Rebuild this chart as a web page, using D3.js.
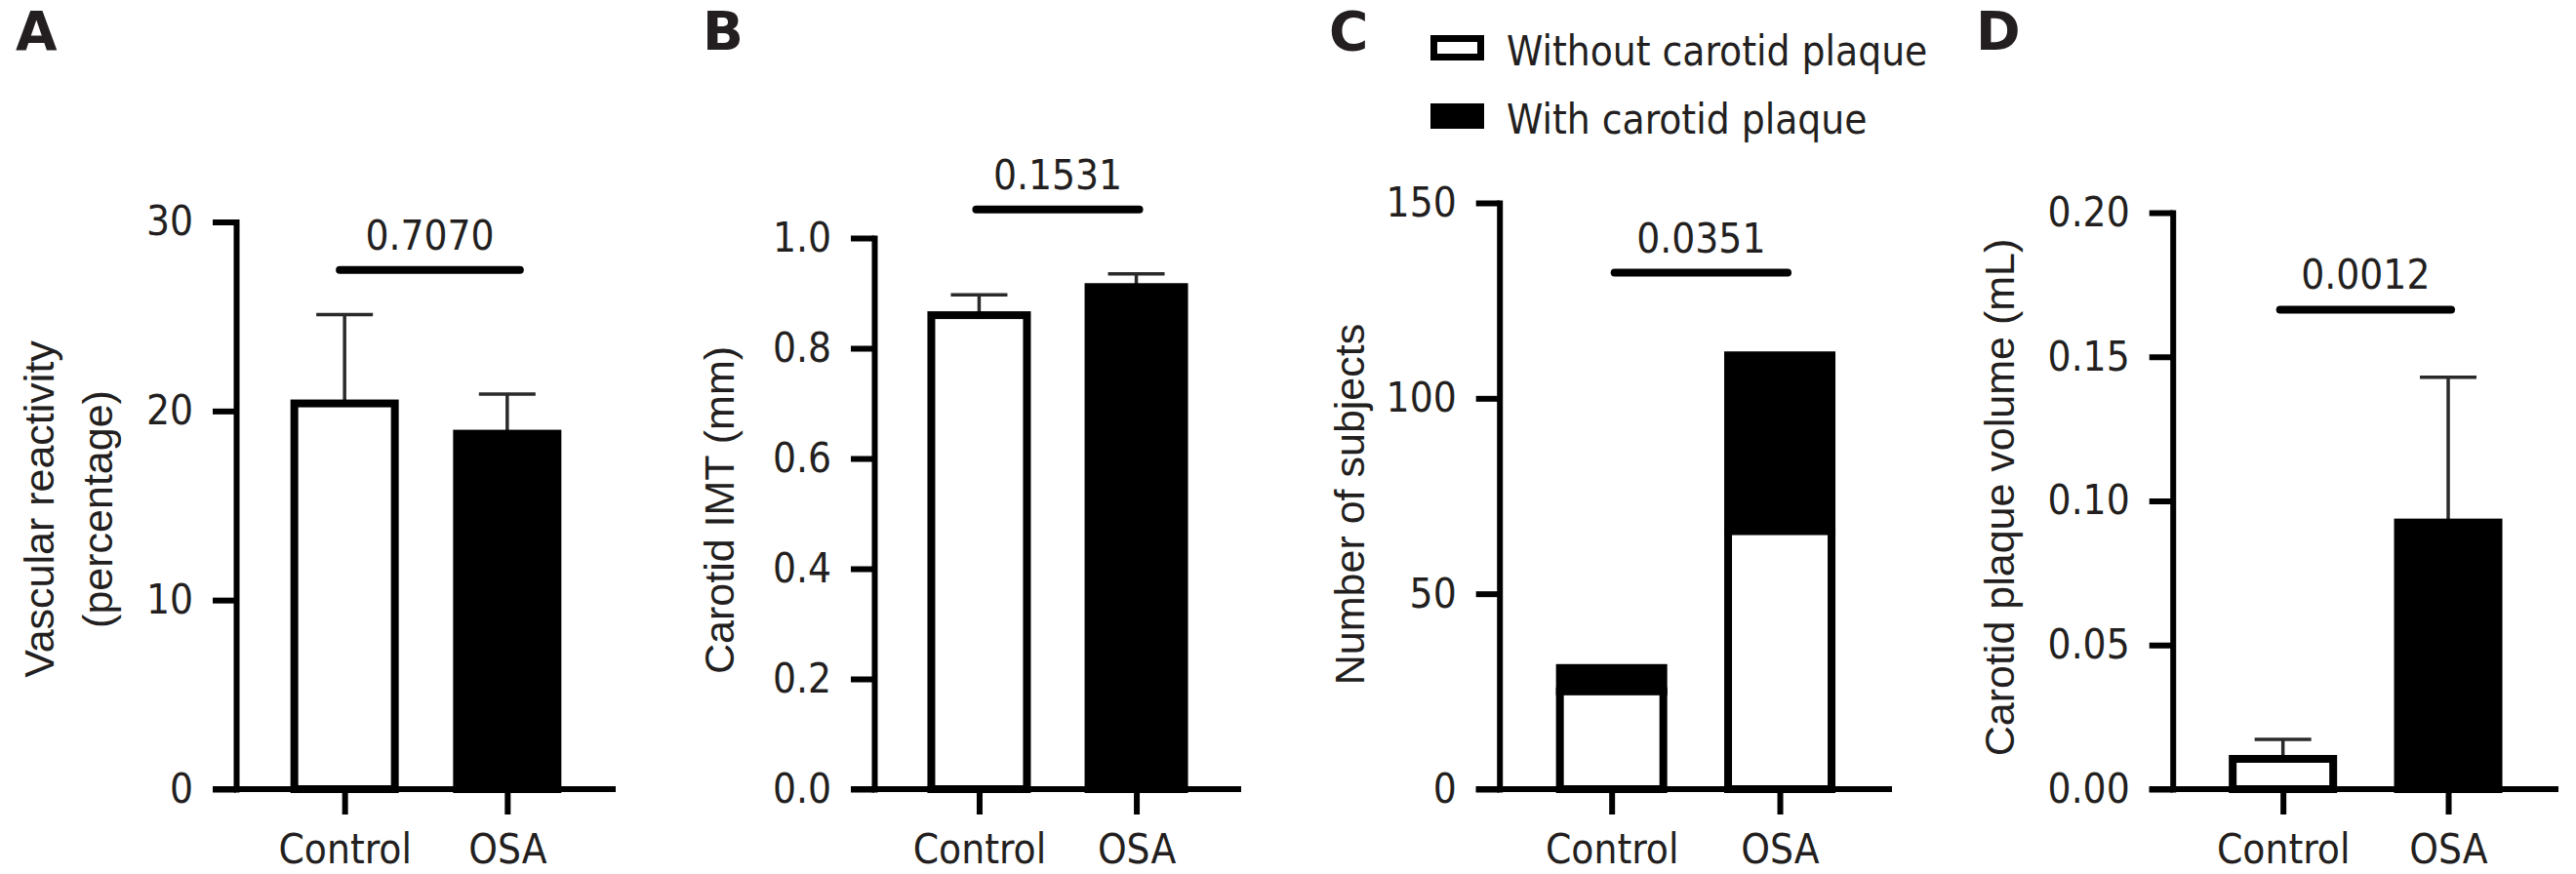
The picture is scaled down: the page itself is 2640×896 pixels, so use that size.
<!DOCTYPE html>
<html>
<head>
<meta charset="utf-8">
<script src="https://cdn.jsdelivr.net/npm/d3@7"></script>
<style>
  html, body { margin: 0; padding: 0; background: #fff; }
  svg { display: block; }
  .num { font-family: "DejaVu Sans Condensed", "DejaVu Sans", sans-serif; font-stretch: condensed; font-size: 42px; fill: #231f20; }
  .ttl { font-family: "Liberation Sans", Arial, sans-serif; font-size: 43px; fill: #231f20; }
  .letter { font-family: "DejaVu Sans", sans-serif; font-weight: bold; font-size: 55px; fill: #231f20; }
</style>
</head>
<body>
<script>
// ---------------- data ----------------
const categories = ["Control", "OSA"];

// Panel A: vascular reactivity (%), mean and upper SD
const vascularMean = [20.4, 18.8];
const vascularErr  = [4.7, 2.1];

// Panel B: carotid IMT (mm)
const imtMean = [0.860, 0.911];
const imtErr  = [0.037, 0.024];

// Panel C: number of subjects (stacked)
const withoutPlaque = [25, 66];
const withPlaque    = [6, 45];

// Panel D: carotid plaque volume (mL)
const plaqueVolMean = [0.0105, 0.0925];
const plaqueVolErr  = [0.0068, 0.0504];

const pValues = ["0.7070", "0.1531", "0.0351", "0.0012"];
const panelLetters = ["A", "B", "C", "D"];

const yTicksA = [0, 10, 20, 30];
const yTicksB = [0.0, 0.2, 0.4, 0.6, 0.8, 1.0];
const yTicksC = [0, 50, 100, 150];
const yTicksD = [0.00, 0.05, 0.10, 0.15, 0.20];

const yTitleA = ["Vascular reactivity", "(percentage)"];
const yTitleB = ["Carotid IMT (mm)"];
const yTitleC = ["Number of subjects"];
const yTitleD = ["Carotid plaque volume (mL)"];

const legendLabels = ["Without carotid plaque", "With carotid plaque"];

// ---------------- layout ----------------
const W = 2640, H = 896;
const Y0 = 809;
const STROKE = 8;

const svg = d3.select("body").append("svg")
  .attr("width", W).attr("height", H)
  .attr("viewBox", `0 0 ${W} ${H}`);

const panels = [
  { letter: panelLetters[0], letterX: 16, axisX: 242, xEnd: 631, yTop: 227.5,
    domain: [0, 30], ticks: yTicksA, fmt: d3.format("d"),
    type: "bar", mean: vascularMean, err: vascularErr, barW: 111,
    sigY: 276.7, sigL: -5, sigR: 13, p: pValues[0],
    title: yTitleA, titleX: [55, 115], titleY: 522 },
  { letter: panelLetters[1], letterX: 720, axisX: 896, xEnd: 1272, yTop: 244,
    domain: [0, 1], ticks: yTicksB, fmt: d3.format(".1f"),
    type: "bar", mean: imtMean, err: imtErr, barW: 106,
    sigY: 214.7, sigL: -3, sigR: 3, p: pValues[1],
    title: yTitleB, titleX: [752], titleY: 523 },
  { letter: panelLetters[2], letterX: 1362, axisX: 1536.7, xEnd: 1939, yTop: 208,
    domain: [0, 150], ticks: yTicksC, fmt: d3.format("d"),
    type: "stack", low: withoutPlaque, high: withPlaque, barW: 114,
    sigY: 279.5, sigL: 3, sigR: 8, p: pValues[2],
    title: yTitleC, titleX: [1398], titleY: 517 },
  { letter: panelLetters[3], letterX: 2025, axisX: 2226.7, xEnd: 2622, yTop: 218,
    domain: [0, 0.2], ticks: yTicksD, fmt: d3.format(".2f"),
    type: "bar", mean: plaqueVolMean, err: plaqueVolErr, barW: 111,
    sigY: 317.4, sigL: -3, sigR: 3, p: pValues[3],
    title: yTitleD, titleX: [2064], titleY: 510 }
];

const fills = ["#ffffff", "#000000"];

panels.forEach(P => {
  const g = svg.append("g");
  const y = d3.scaleLinear().domain(P.domain).range([Y0, P.yTop]);
  const x = d3.scalePoint().domain(categories).range([P.axisX, P.xEnd]).padding(0.667);

  // panel letter
  g.append("text").attr("class", "letter").attr("x", P.letterX).attr("y", 51).text(P.letter);

  // bars
  const inner = P.barW - STROKE;
  if (P.type === "bar") {
    categories.forEach((c, i) => {
      const cx = x(c);
      const top = y(P.mean[i]);
      // error bar (upper only)
      const ey = y(P.mean[i] + P.err[i]);
      g.append("line").attr("x1", cx).attr("x2", cx).attr("y1", top).attr("y2", ey)
        .attr("stroke", "#2a2a2a").attr("stroke-width", 3.5);
      g.append("line").attr("x1", cx - 29).attr("x2", cx + 29).attr("y1", ey).attr("y2", ey)
        .attr("stroke", "#2a2a2a").attr("stroke-width", 3.5);
      g.append("rect").attr("x", cx - inner / 2).attr("width", inner)
        .attr("y", top).attr("height", Y0 - top)
        .attr("fill", fills[i]).attr("stroke", "#000").attr("stroke-width", STROKE);
    });
  } else {
    categories.forEach((c, i) => {
      const cx = x(c);
      const lowTop = y(P.low[i]);
      const allTop = y(P.low[i] + P.high[i]);
      g.append("rect").attr("x", cx - inner / 2).attr("width", inner)
        .attr("y", allTop).attr("height", lowTop - allTop)
        .attr("fill", "#000").attr("stroke", "#000").attr("stroke-width", STROKE);
      g.append("rect").attr("x", cx - inner / 2).attr("width", inner)
        .attr("y", lowTop).attr("height", Y0 - lowTop)
        .attr("fill", "#fff").attr("stroke", "#000").attr("stroke-width", STROKE);
    });
  }

  // y axis
  const ya = g.append("g").attr("transform", `translate(${P.axisX},0)`)
    .call(d3.axisLeft(y).tickValues(P.ticks).tickFormat(P.fmt)
      .tickSize(24).tickSizeOuter(0).tickPadding(20));
  ya.select(".domain").attr("stroke", "#000").attr("stroke-width", 6).attr("stroke-linecap", "square");
  ya.selectAll(".tick line").attr("stroke", "#000").attr("stroke-width", 6);
  ya.selectAll(".tick text").attr("class", "num").attr("fill", null).attr("font-size", null).attr("font-family", null);
  ya.attr("font-size", null).attr("font-family", null);

  // x axis
  const xa = g.append("g").attr("transform", `translate(0,${Y0})`)
    .call(d3.axisBottom(x).tickSize(26).tickSizeOuter(0).tickPadding(20));
  xa.select(".domain").remove();
  xa.selectAll(".tick line").attr("stroke", "#000").attr("stroke-width", 6);
  xa.selectAll(".tick text").attr("class", "num").attr("fill", null);
  xa.attr("font-size", null).attr("font-family", null);
  g.append("line").attr("x1", P.axisX - 24).attr("x2", P.xEnd).attr("y1", Y0).attr("y2", Y0)
    .attr("stroke", "#000").attr("stroke-width", 6);

  // significance line
  const sx0 = x(categories[0]) + P.sigL, sx1 = x(categories[1]) + P.sigR;
  g.append("line").attr("x1", sx0).attr("x2", sx1).attr("y1", P.sigY).attr("y2", P.sigY)
    .attr("stroke", "#000").attr("stroke-width", 8).attr("stroke-linecap", "round");
  g.append("text").attr("class", "num").attr("text-anchor", "middle")
    .attr("x", (sx0 + sx1) / 2).attr("y", P.sigY - 21).text(P.p);

  // y title
  P.title.forEach((t, k) => {
    g.append("text").attr("class", "ttl").attr("text-anchor", "middle")
      .attr("transform", `translate(${P.titleX[k]},${P.titleY}) rotate(-90)`)
      .text(t);
  });
});

// legend (panel C)
const lg = svg.append("g");
const legendFills = ["#fff", "#000"];
const legendRows = [49, 119];
legendLabels.forEach((t, i) => {
  lg.append("rect").attr("x", 1469.5).attr("y", legendRows[i] - 9.5)
    .attr("width", 48).attr("height", 19)
    .attr("fill", legendFills[i]).attr("stroke", "#000").attr("stroke-width", 7);
  lg.append("text").attr("class", "num").attr("x", 1544).attr("y", legendRows[i] + 17.5).text(t);
});
</script>
</body>
</html>
